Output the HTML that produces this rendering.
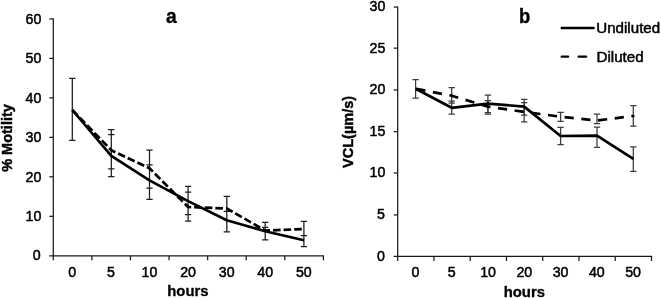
<!DOCTYPE html>
<html><head><meta charset="utf-8"><title>chart</title>
<style>
html,body{margin:0;padding:0;background:#fff;}
body{width:661px;height:298px;overflow:hidden;font-family:"Liberation Sans",sans-serif;}
svg{display:block;will-change:transform;transform:translateZ(0);font-family:"Liberation Sans",sans-serif;}
</style></head><body>
<svg width="661" height="298" viewBox="0 0 661 298">
<rect x="0" y="0" width="661" height="298" fill="#fff"/>
<g stroke="#1a1a1a" stroke-width="1.25" fill="none">
<path d="M53.30 18.40V260.30"/>
<path d="M49.30 255.80H324.00"/>
<path d="M49.30 216.32H53.30"/>
<path d="M49.30 176.83H53.30"/>
<path d="M49.30 137.35H53.30"/>
<path d="M49.30 97.87H53.30"/>
<path d="M49.30 58.38H53.30"/>
<path d="M49.30 18.90H53.30"/>
<path d="M91.89 255.80V260.30"/>
<path d="M130.47 255.80V260.30"/>
<path d="M169.06 255.80V260.30"/>
<path d="M207.64 255.80V260.30"/>
<path d="M246.23 255.80V260.30"/>
<path d="M284.81 255.80V260.30"/>
<path d="M323.40 255.80V260.30"/>
</g>
<g stroke="#1a1a1a" stroke-width="1.25" fill="none">
<path d="M397.70 6.55V260.95"/>
<path d="M393.70 256.45H652.10"/>
<path d="M393.70 214.90H397.70"/>
<path d="M393.70 173.00H397.70"/>
<path d="M393.70 131.60H397.70"/>
<path d="M393.70 90.00H397.70"/>
<path d="M393.70 48.15H397.70"/>
<path d="M393.70 7.05H397.70"/>
<path d="M433.96 256.45V260.95"/>
<path d="M470.21 256.45V260.95"/>
<path d="M506.47 256.45V260.95"/>
<path d="M542.73 256.45V260.95"/>
<path d="M578.99 256.45V260.95"/>
<path d="M615.24 256.45V260.95"/>
<path d="M651.50 256.45V260.95"/>
</g>
<text transform="translate(40.70 260.00) scale(0.975 1.05)" text-anchor="end" font-size="14.6" fill="#000" stroke="#000" stroke-width="0.5" stroke-linejoin="round">0</text>
<text transform="translate(41.30 221.12) scale(0.975 1.05)" text-anchor="end" font-size="14.6" fill="#000" stroke="#000" stroke-width="0.5" stroke-linejoin="round">10</text>
<text transform="translate(41.30 181.63) scale(0.975 1.05)" text-anchor="end" font-size="14.6" fill="#000" stroke="#000" stroke-width="0.5" stroke-linejoin="round">20</text>
<text transform="translate(41.30 142.15) scale(0.975 1.05)" text-anchor="end" font-size="14.6" fill="#000" stroke="#000" stroke-width="0.5" stroke-linejoin="round">30</text>
<text transform="translate(41.30 102.67) scale(0.975 1.05)" text-anchor="end" font-size="14.6" fill="#000" stroke="#000" stroke-width="0.5" stroke-linejoin="round">40</text>
<text transform="translate(41.30 63.18) scale(0.975 1.05)" text-anchor="end" font-size="14.6" fill="#000" stroke="#000" stroke-width="0.5" stroke-linejoin="round">50</text>
<text transform="translate(41.30 23.70) scale(0.975 1.05)" text-anchor="end" font-size="14.6" fill="#000" stroke="#000" stroke-width="0.5" stroke-linejoin="round">60</text>
<text transform="translate(384.90 261.15) scale(0.975 1.05)" text-anchor="end" font-size="14.6" fill="#000" stroke="#000" stroke-width="0.5" stroke-linejoin="round">0</text>
<text transform="translate(384.90 219.30) scale(0.975 1.05)" text-anchor="end" font-size="14.6" fill="#000" stroke="#000" stroke-width="0.5" stroke-linejoin="round">5</text>
<text transform="translate(385.40 177.40) scale(0.975 1.05)" text-anchor="end" font-size="14.6" fill="#000" stroke="#000" stroke-width="0.5" stroke-linejoin="round">10</text>
<text transform="translate(385.40 136.00) scale(0.975 1.05)" text-anchor="end" font-size="14.6" fill="#000" stroke="#000" stroke-width="0.5" stroke-linejoin="round">15</text>
<text transform="translate(385.40 94.40) scale(0.975 1.05)" text-anchor="end" font-size="14.6" fill="#000" stroke="#000" stroke-width="0.5" stroke-linejoin="round">20</text>
<text transform="translate(385.40 52.55) scale(0.975 1.05)" text-anchor="end" font-size="14.6" fill="#000" stroke="#000" stroke-width="0.5" stroke-linejoin="round">25</text>
<text transform="translate(385.40 11.05) scale(0.975 1.05)" text-anchor="end" font-size="14.6" fill="#000" stroke="#000" stroke-width="0.5" stroke-linejoin="round">30</text>
<text transform="translate(72.29 277.00) scale(0.975 1.05)" text-anchor="middle" font-size="14.6" fill="#000" stroke="#000" stroke-width="0.5" stroke-linejoin="round">0</text>
<text transform="translate(415.53 277.00) scale(0.975 1.05)" text-anchor="middle" font-size="14.6" fill="#000" stroke="#000" stroke-width="0.5" stroke-linejoin="round">0</text>
<text transform="translate(110.88 277.00) scale(0.975 1.05)" text-anchor="middle" font-size="14.6" fill="#000" stroke="#000" stroke-width="0.5" stroke-linejoin="round">5</text>
<text transform="translate(451.79 277.00) scale(0.975 1.05)" text-anchor="middle" font-size="14.6" fill="#000" stroke="#000" stroke-width="0.5" stroke-linejoin="round">5</text>
<text transform="translate(149.46 277.00) scale(0.975 1.05)" text-anchor="middle" font-size="14.6" fill="#000" stroke="#000" stroke-width="0.5" stroke-linejoin="round">10</text>
<text transform="translate(488.04 277.00) scale(0.975 1.05)" text-anchor="middle" font-size="14.6" fill="#000" stroke="#000" stroke-width="0.5" stroke-linejoin="round">10</text>
<text transform="translate(188.05 277.00) scale(0.975 1.05)" text-anchor="middle" font-size="14.6" fill="#000" stroke="#000" stroke-width="0.5" stroke-linejoin="round">20</text>
<text transform="translate(524.30 277.00) scale(0.975 1.05)" text-anchor="middle" font-size="14.6" fill="#000" stroke="#000" stroke-width="0.5" stroke-linejoin="round">20</text>
<text transform="translate(226.64 277.00) scale(0.975 1.05)" text-anchor="middle" font-size="14.6" fill="#000" stroke="#000" stroke-width="0.5" stroke-linejoin="round">30</text>
<text transform="translate(560.56 277.00) scale(0.975 1.05)" text-anchor="middle" font-size="14.6" fill="#000" stroke="#000" stroke-width="0.5" stroke-linejoin="round">30</text>
<text transform="translate(265.22 277.00) scale(0.975 1.05)" text-anchor="middle" font-size="14.6" fill="#000" stroke="#000" stroke-width="0.5" stroke-linejoin="round">40</text>
<text transform="translate(596.81 277.00) scale(0.975 1.05)" text-anchor="middle" font-size="14.6" fill="#000" stroke="#000" stroke-width="0.5" stroke-linejoin="round">40</text>
<text transform="translate(303.81 277.00) scale(0.975 1.05)" text-anchor="middle" font-size="14.6" fill="#000" stroke="#000" stroke-width="0.5" stroke-linejoin="round">50</text>
<text transform="translate(633.07 277.00) scale(0.975 1.05)" text-anchor="middle" font-size="14.6" fill="#000" stroke="#000" stroke-width="0.5" stroke-linejoin="round">50</text>
<text transform="translate(187.90 296.30) scale(1.02 0.97)" text-anchor="middle" font-size="14.6" font-weight="bold" fill="#000" stroke="#000" stroke-width="0.3" stroke-linejoin="round">hours</text>
<text transform="translate(524.30 296.80) scale(1.02 0.97)" text-anchor="middle" font-size="14.6" font-weight="bold" fill="#000" stroke="#000" stroke-width="0.3" stroke-linejoin="round">hours</text>
<text transform="translate(171.30 23.00) scale(1.0 1.03)" text-anchor="middle" font-size="19.3" font-weight="bold" fill="#000" stroke="#000" stroke-width="0.3" stroke-linejoin="round">a</text>
<text transform="translate(524.60 23.00) scale(1.0 1.07)" text-anchor="middle" font-size="18.5" font-weight="bold" fill="#000" stroke="#000" stroke-width="0.3" stroke-linejoin="round">b</text>
<text transform="translate(11.60 138.00) rotate(-90) scale(0.995 1.0)" text-anchor="middle" font-size="14.6" font-weight="bold" fill="#000" stroke="#000" stroke-width="0.45" stroke-linejoin="round">% Motility</text>
<text transform="translate(353.30 131.90) rotate(-90) scale(0.995 1.0)" text-anchor="middle" font-size="14.6" font-weight="bold" fill="#000" stroke="#000" stroke-width="0.45" stroke-linejoin="round">VCL(µm/s)</text>
<path d="M72.30 78.40V140.30M69.15 78.40h6.30M69.15 140.30h6.30" stroke="#1c1c1c" stroke-width="1.25" fill="none"/>
<path d="M111.30 129.50V176.70M108.15 129.50h6.30M108.15 134.60h6.30M108.15 168.80h6.30M108.15 176.70h6.30" stroke="#1c1c1c" stroke-width="1.25" fill="none"/>
<path d="M149.50 150.00V199.30M146.35 150.00h6.30M146.35 164.80h6.30M146.35 188.20h6.30M146.35 199.30h6.30" stroke="#1c1c1c" stroke-width="1.25" fill="none"/>
<path d="M188.10 186.40V221.10M184.95 186.40h6.30M184.95 192.20h6.30M184.95 214.70h6.30M184.95 221.10h6.30" stroke="#1c1c1c" stroke-width="1.25" fill="none"/>
<path d="M226.80 196.40V231.80M223.65 196.40h6.30M223.65 211.40h6.30M223.65 231.80h6.30" stroke="#1c1c1c" stroke-width="1.25" fill="none"/>
<path d="M265.20 222.40V239.90M262.05 222.40h6.30M262.05 227.30h6.30M262.05 239.90h6.30" stroke="#1c1c1c" stroke-width="1.25" fill="none"/>
<path d="M303.90 221.40V246.70M300.75 221.40h6.30M300.75 235.70h6.30M300.75 246.70h6.30" stroke="#1c1c1c" stroke-width="1.25" fill="none"/>
<path d="M415.60 79.60V98.20M412.45 79.60h6.30M412.45 98.20h6.30" stroke="#3c3c3c" stroke-width="1.25" fill="none"/>
<path d="M451.70 87.60V103.10M448.55 87.60h6.30M448.55 103.10h6.30" stroke="#3c3c3c" stroke-width="1.25" fill="none"/>
<path d="M451.70 101.00V114.00M448.55 101.00h6.30M448.55 114.00h6.30" stroke="#3c3c3c" stroke-width="1.25" fill="none"/>
<path d="M487.90 95.10V112.70M484.75 95.10h6.30M484.75 112.70h6.30" stroke="#3c3c3c" stroke-width="1.25" fill="none"/>
<path d="M487.90 100.50V114.00M484.75 100.50h6.30M484.75 114.00h6.30" stroke="#3c3c3c" stroke-width="1.25" fill="none"/>
<path d="M524.20 99.30V115.20M521.05 99.30h6.30M521.05 115.20h6.30" stroke="#3c3c3c" stroke-width="1.25" fill="none"/>
<path d="M524.20 102.70V121.90M521.05 102.70h6.30M521.05 121.90h6.30" stroke="#3c3c3c" stroke-width="1.25" fill="none"/>
<path d="M560.60 112.30V121.30M557.45 112.30h6.30M557.45 121.30h6.30" stroke="#3c3c3c" stroke-width="1.25" fill="none"/>
<path d="M560.60 127.30V144.60M557.45 127.30h6.30M557.45 144.60h6.30" stroke="#3c3c3c" stroke-width="1.25" fill="none"/>
<path d="M597.00 114.00V123.50M593.85 114.00h6.30M593.85 123.50h6.30" stroke="#3c3c3c" stroke-width="1.25" fill="none"/>
<path d="M597.00 127.20V147.30M593.85 127.20h6.30M593.85 147.30h6.30" stroke="#3c3c3c" stroke-width="1.25" fill="none"/>
<path d="M633.30 105.60V126.00M630.15 105.60h6.30M630.15 126.00h6.30" stroke="#3c3c3c" stroke-width="1.25" fill="none"/>
<path d="M633.30 146.80V171.40M630.15 146.80h6.30M630.15 171.40h6.30" stroke="#3c3c3c" stroke-width="1.25" fill="none"/>
<polyline points="72.30,110.00 111.30,150.20 149.50,168.30 188.10,207.00 226.80,208.50 265.20,230.60 303.90,229.00" fill="none" stroke="#000" stroke-width="2.7" stroke-linejoin="round" stroke-dasharray="7.6 3.0"/>
<polyline points="72.30,110.00 111.30,155.90 149.50,180.40 188.10,201.10 226.80,220.30 265.20,231.20 303.90,240.20" fill="none" stroke="#000" stroke-width="2.7" stroke-linejoin="round"/>
<polyline points="415.60,88.70 451.70,95.70 487.90,106.60 524.20,111.90 560.60,116.70 597.00,120.50 633.30,116.00" fill="none" stroke="#000" stroke-width="2.7" stroke-linejoin="round" stroke-dasharray="9.2 7.6" stroke-dashoffset="-0.8"/>
<polyline points="415.60,88.70 451.70,107.80 487.90,103.60 524.20,106.60 560.60,136.00 597.00,135.60 633.30,158.90" fill="none" stroke="#000" stroke-width="2.7" stroke-linejoin="round"/>
<circle cx="633.3" cy="116" r="1.3" fill="#000"/>
<path d="M560.7 28.0H594.6" stroke="#000" stroke-width="2.5" fill="none"/>
<path d="M561.7 56.7h6.4M578.6 56.7h7.6" stroke="#000" stroke-width="2.3" stroke-linecap="round" fill="none"/>
<text transform="translate(596.20 32.70) scale(1.01 0.92)" text-anchor="start" font-size="15" fill="#000" stroke="#000" stroke-width="0.5" stroke-linejoin="round">Undiluted</text>
<text transform="translate(596.50 61.70) scale(1.01 0.92)" text-anchor="start" font-size="15" fill="#000" stroke="#000" stroke-width="0.5" stroke-linejoin="round">Diluted</text>
</svg>
</body></html>
